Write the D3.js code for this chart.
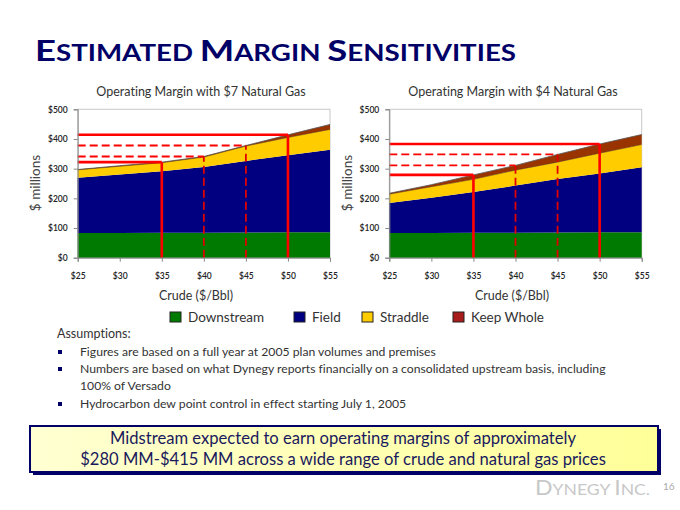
<!DOCTYPE html>
<html><head><meta charset="utf-8">
<script src="https://cdn.jsdelivr.net/npm/d3@7/dist/d3.min.js"></script>
<style>
html,body{margin:0;padding:0;background:#fff;}
svg{display:block;font-family:Lato,"Open Sans",sans-serif;font-variant-ligatures:none;}
</style></head>
<body><svg id="c" width="680" height="510"></svg>
<script>
// ---- data ----
const crude = [25, 30, 35, 40, 45, 50, 55];
const seriesNames = ["Downstream", "Field", "Straddle", "Keep Whole"];
// $7 natural gas (individual layer values, $ millions)
const gas7Downstream = [83, 83, 84, 84, 85, 86, 86];
const gas7Field      = [186, 197, 207, 222, 241, 259, 278];
const gas7Straddle   = [27, 28, 29, 33, 50, 60, 68];
const gas7KeepWhole  = [1, 2, 2, 2, 2, 9, 17];
// $4 natural gas
const gas4Downstream = [83, 83, 84, 84, 85, 86, 86];
const gas4Field      = [101, 119, 137, 159, 180, 198, 219];
const gas4Straddle   = [30, 37, 43, 52, 57, 68, 76];
const gas4KeepWhole  = [3, 7, 15, 16, 26, 31, 34];
// reference (red) markers: crude price and margin
const markerCrude = [35, 40, 45, 50];
const markerDashed = [false, true, true, false];
const yTicks = [0, 100, 200, 300, 400, 500];
const xTicks = [25, 30, 35, 40, 45, 50, 55];
const areaColors = ["#007A00", "#000080", "#FFCC00", "#993300"];
const legendColors = ["#007A00", "#000080", "#FFCC00", "#A81C1C"];

const svg = d3.select("#c");

// ---- title ----
const title = svg.append("text").attr("x", 35).attr("y", 61)
  .attr("fill", "#000066").attr("font-weight", "bold")
  .attr("textLength", 481).attr("lengthAdjust", "spacingAndGlyphs");
[["E",29],["STIMATED ",22],["M",29],["ARGIN ",22],["S",29],["ENSITIVITIES",22]].forEach(([t,s])=>{
  title.append("tspan").attr("font-size", s).text(t);
});

function chart(cfg) {
  const {x0, x1, vals, titleText, labelX, titleX, crudeX} = cfg;
  const y0 = 257.7, y1 = 109.3;
  const x = d3.scaleLinear().domain([25, 55]).range([x0, x1]);
  const y = d3.scaleLinear().domain([0, 500]).range([y0, y1]);
  const rows = crude.map((c, i) => {
    const r = {crude: c};
    seriesNames.forEach((n, k) => r[n] = vals[k][i]);
    return r;
  });
  const stack = d3.stack().keys(seriesNames)(rows);
  const g = svg.append("g");
  // frame
  g.append("rect").attr("x", x0).attr("y", y1).attr("width", x1 - x0).attr("height", y0 - y1)
    .attr("fill", "none").attr("stroke", "#c8c8c8").attr("stroke-width", 1);
  const area = d3.area().x(d => x(d.data.crude)).y0(d => y(d[0])).y1(d => y(d[1]));
  stack.forEach((s, k) => {
    g.append("path").datum(s).attr("d", area).attr("fill", areaColors[k]);
  });
  const topLine = d3.line().x(d => x(d.data.crude)).y(d => y(d[1]));
  g.append("path").datum(stack[3]).attr("d", topLine).attr("fill", "none")
    .attr("stroke", "#555").attr("stroke-width", 0.8);
  g.append("path").datum(stack[2]).attr("d", topLine).attr("fill", "none")
    .attr("stroke", "#5a3a00").attr("stroke-width", 0.5);
  // red markers
  markerCrude.forEach((c, m) => {
    const i = crude.indexOf(c);
    const total = stack[3][i][1];
    const dash = markerDashed[m] ? "8,4" : null;
    const sw = markerDashed[m] ? 1.8 : 2.6;
    g.append("line").attr("x1", x(25)).attr("x2", x(c)).attr("y1", y(total)).attr("y2", y(total))
      .attr("stroke", "#FF0000").attr("stroke-width", sw).attr("stroke-dasharray", dash);
    g.append("line").attr("x1", x(c)).attr("x2", x(c)).attr("y1", y(0)).attr("y2", y(total))
      .attr("stroke", markerDashed[m] ? "#E00000" : "#FF0000").attr("stroke-width", sw).attr("stroke-dasharray", dash);
  });
  // axes
  const ya = d3.axisLeft(y).tickValues(yTicks).tickFormat(d => "$" + d).tickSize(4).tickPadding(6);
  const yg = g.append("g").attr("transform", `translate(${x0},0)`).call(ya);
  const xa = d3.axisBottom(x).tickValues(xTicks).tickFormat(d => "$" + d).tickSize(4).tickPadding(11);
  const xg = g.append("g").attr("transform", `translate(0,${y0})`).call(xa);
  [yg, xg].forEach(a => {
    a.select(".domain").attr("stroke", "#888");
    a.selectAll(".tick line").attr("stroke", "#888");
    a.selectAll("text").attr("font-size", 8.5).attr("fill", "#222").attr("font-weight", 600)
      .attr("font-family", "Lato, sans-serif");
  });
  // titles
  g.append("text").attr("x", titleX).attr("y", 96).attr("text-anchor", "middle")
    .attr("font-size", 12.5).attr("fill", "#333").text(titleText);
  g.append("text").attr("x", crudeX).attr("y", 300).attr("text-anchor", "middle")
    .attr("font-size", 12.5).attr("fill", "#333").text("Crude ($/Bbl)");
  g.append("text").attr("transform", `translate(${labelX},183) rotate(-90)`).attr("text-anchor", "middle")
    .attr("font-size", 13.5).attr("fill", "#444").text("$ millions");
}

chart({x0: 77.7, x1: 330, vals: [gas7Downstream, gas7Field, gas7Straddle, gas7KeepWhole],
  titleText: "Operating Margin with $7 Natural Gas", labelX: 40, titleX: 201, crudeX: 196});
chart({x0: 389.3, x1: 641.7, vals: [gas4Downstream, gas4Field, gas4Straddle, gas4KeepWhole],
  titleText: "Operating Margin with $4 Natural Gas", labelX: 352, titleX: 513, crudeX: 512});

// ---- legend ----
const legendX = [170, 294, 362, 453];
seriesNames.forEach((n, k) => {
  svg.append("rect").attr("x", legendX[k]).attr("y", 312).attr("width", 11).attr("height", 10)
    .attr("fill", legendColors[k]).attr("stroke", "#222").attr("stroke-width", 1);
  svg.append("text").attr("x", legendX[k] + 18).attr("y", 322).attr("font-size", 13.5)
    .attr("fill", "#333").text(n);
});

// ---- assumptions ----
svg.append("text").attr("x", 57).attr("y", 338).attr("font-size", 12.5).attr("fill", "#333").text("Assumptions:");
const bullets = [
  ["Figures are based on a full year at 2005 plan volumes and premises"],
  ["Numbers are based on what Dynegy reports financially on a consolidated upstream basis, including", "100% of Versado"],
  ["Hydrocarbon dew point control in effect starting July 1, 2005"]
];
const bulletY = [356, 373, 408];
bullets.forEach((b, i) => {
  svg.append("rect").attr("x", 58).attr("y", bulletY[i] - 6).attr("width", 4).attr("height", 4).attr("fill", "#000066");
  b.forEach((line, j) => {
    svg.append("text").attr("x", 80).attr("y", bulletY[i] + j * 17).attr("font-size", 12.2)
      .attr("fill", "#333").text(line);
  });
});

// ---- conclusion box ----
const defs = svg.append("defs");
const gr = defs.append("linearGradient").attr("id", "yb").attr("x1", 0).attr("x2", 1).attr("y1", 0).attr("y2", 0);
gr.append("stop").attr("offset", 0).attr("stop-color", "#FFFFD2");
gr.append("stop").attr("offset", 1).attr("stop-color", "#FFFF99");
svg.append("rect").attr("x", 33).attr("y", 429).attr("width", 628).attr("height", 46).attr("fill", "#000066");
svg.append("rect").attr("x", 30).attr("y", 426).attr("width", 628).attr("height", 46)
  .attr("fill", "url(#yb)").attr("stroke", "#000066").attr("stroke-width", 2);
svg.append("text").attr("x", 343).attr("y", 444).attr("text-anchor", "middle").attr("font-size", 16.6)
  .attr("fill", "#1a1a5e").text("Midstream expected to earn operating margins of approximately");
svg.append("text").attr("x", 343).attr("y", 465).attr("text-anchor", "middle").attr("font-size", 16.6)
  .attr("fill", "#1a1a5e").text("$280 MM-$415 MM across a wide range of crude and natural gas prices");

// ---- footer ----
const f = svg.append("text").attr("x", 535).attr("y", 495).attr("fill", "#c8c8c8")
  .attr("textLength", 115).attr("lengthAdjust", "spacingAndGlyphs");
[["D",21],["YNEGY ",16],["I",21],["NC.",16]].forEach(([t,s])=>f.append("tspan").attr("font-size", s).text(t));
svg.append("text").attr("x", 663).attr("y", 490).attr("font-size", 10).attr("fill", "#aaa").text("16");
</script></body></html>
